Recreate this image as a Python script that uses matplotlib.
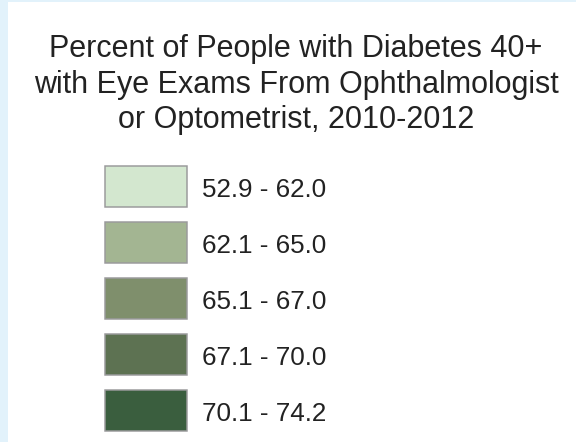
import matplotlib
matplotlib.use('Agg')
import matplotlib.pyplot as plt

title_lines = ['Percent of People with Diabetes 40+',
               'with Eye Exams From Ophthalmologist',
               'or Optometrist, 2010-2012']
ranges = ['52.9 - 62.0', '62.1 - 65.0', '65.1 - 67.0', '67.1 - 70.0', '70.1 - 74.2']
colors = ['#d3e7cf', '#a3b592', '#7f8f6c', '#5d7252', '#3a5e3e']

plt.rcParams['font.family'] = ['Liberation Sans', 'DejaVu Sans']

fig = plt.figure(figsize=(8, 442 / 72), dpi=72)
ax = fig.add_axes([0, 0, 1, 1])
ax.set_xlim(0, 576)
ax.set_ylim(442, 0)
ax.axis('off')

# light blue strip on the left and top
ax.axvspan(0, 8, color='#e2f2fb', lw=0)
ax.axhspan(0, 1.5, color='#e2f2fb', lw=0)

for y, line in zip([57, 93, 128], title_lines):
    ax.text(296, y, line, ha='center', va='baseline', fontsize=30.5, color='#222222')

rows = [186 + 56 * i for i in range(len(ranges))]
ax.barh(rows, 82, left=105, height=41, color=colors, edgecolor='#9a9a9c', linewidth=1.5)
for y, lab in zip(rows, ranges):
    ax.text(202, y + 11, lab, ha='left', va='baseline', fontsize=26, color='#222222')

fig.savefig('out.png', dpi=72)
